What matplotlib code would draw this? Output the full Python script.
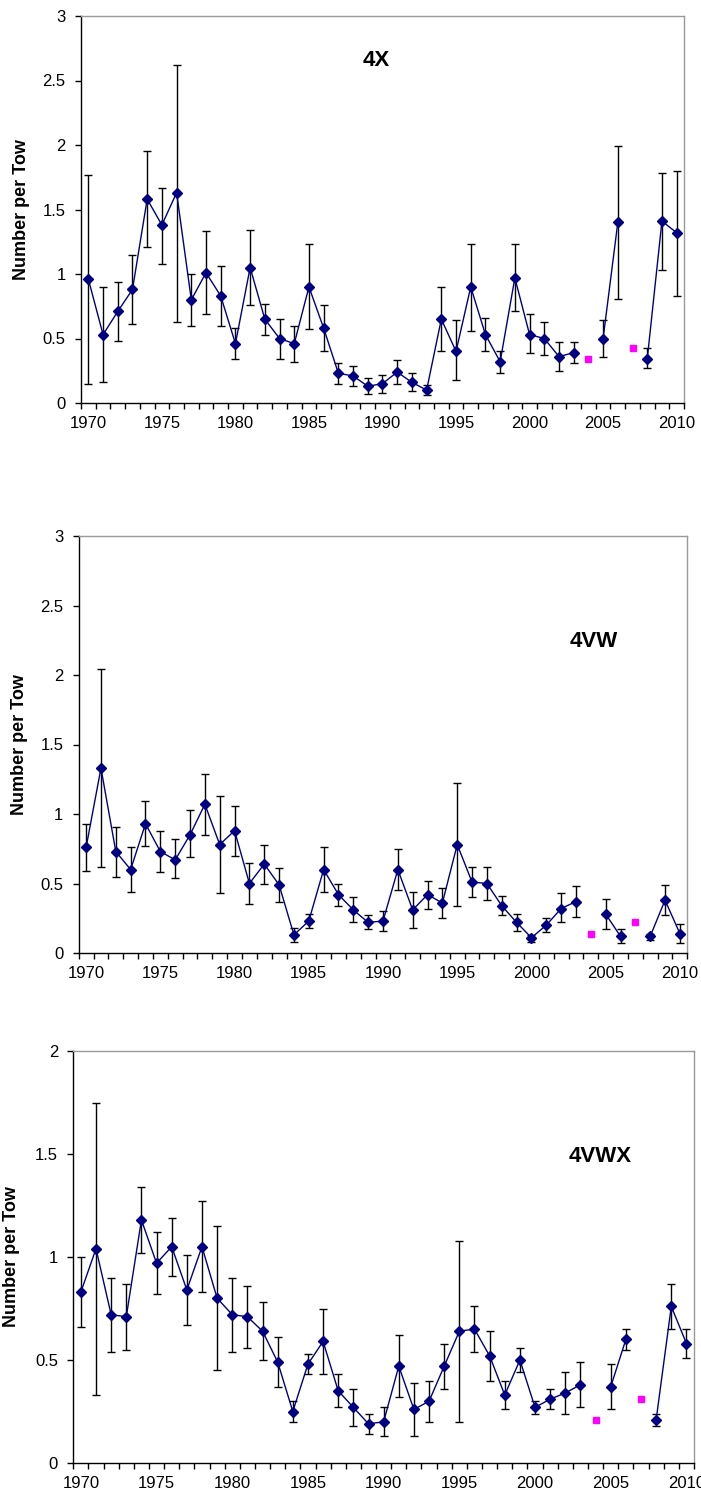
import numpy as np
import matplotlib
matplotlib.use("Agg")
import matplotlib.pyplot as plt
from matplotlib.ticker import FuncFormatter

plt.rcParams['font.family'] = ['Liberation Sans', 'DejaVu Sans']

nan = np.nan
years = np.arange(1970, 2011)
alt_years = [2004, 2007]

# 4X
mean_4x = [0.96, 0.53, 0.71, 0.88, 1.58, 1.38, 1.63, 0.80, 1.01, 0.83, 0.46, 1.05, 0.65, 0.50,
           0.46, 0.90, 0.58, 0.23, 0.21, 0.13, 0.15, 0.24, 0.16, 0.10, 0.65, 0.40, 0.90, 0.53,
           0.32, 0.97, 0.53, 0.50, 0.36, 0.39, nan, 0.50, 1.40, nan, 0.34, 1.41, 1.32]
hi_4x = [1.77, 0.90, 0.94, 1.15, 1.95, 1.67, 2.62, 1.00, 1.33, 1.06, 0.58, 1.34, 0.77, 0.65,
         0.60, 1.23, 0.76, 0.31, 0.29, 0.19, 0.22, 0.33, 0.23, 0.14, 0.90, 0.64, 1.23, 0.66,
         0.40, 1.23, 0.69, 0.63, 0.47, 0.47, nan, 0.64, 1.99, nan, 0.43, 1.78, 1.80]
lo_4x = [0.15, 0.16, 0.48, 0.61, 1.21, 1.08, 0.63, 0.60, 0.69, 0.60, 0.34, 0.76, 0.53, 0.34,
         0.32, 0.57, 0.40, 0.15, 0.13, 0.07, 0.08, 0.15, 0.09, 0.06, 0.40, 0.18, 0.56, 0.40,
         0.23, 0.71, 0.39, 0.37, 0.25, 0.31, nan, 0.36, 0.81, nan, 0.27, 1.03, 0.83]
alt_4x = [0.34, 0.43]

# 4VW
mean_4vw = [0.76, 1.33, 0.73, 0.60, 0.93, 0.73, 0.67, 0.85, 1.07, 0.78, 0.88, 0.50, 0.64, 0.49,
            0.13, 0.23, 0.60, 0.42, 0.31, 0.22, 0.23, 0.60, 0.31, 0.42, 0.36, 0.78, 0.51, 0.50,
            0.34, 0.22, 0.11, 0.20, 0.32, 0.37, nan, 0.28, 0.12, nan, 0.12, 0.38, 0.14]
hi_4vw = [0.93, 2.04, 0.91, 0.76, 1.09, 0.88, 0.82, 1.03, 1.29, 1.13, 1.06, 0.65, 0.78, 0.61,
          0.18, 0.28, 0.76, 0.50, 0.40, 0.27, 0.30, 0.75, 0.44, 0.52, 0.47, 1.22, 0.62, 0.62,
          0.41, 0.28, 0.13, 0.25, 0.43, 0.48, nan, 0.39, 0.17, nan, 0.14, 0.49, 0.21]
lo_4vw = [0.59, 0.62, 0.55, 0.44, 0.77, 0.58, 0.54, 0.69, 0.85, 0.43, 0.70, 0.35, 0.50, 0.37,
          0.08, 0.18, 0.44, 0.34, 0.22, 0.17, 0.16, 0.45, 0.18, 0.32, 0.25, 0.34, 0.40, 0.38,
          0.27, 0.16, 0.08, 0.15, 0.22, 0.26, nan, 0.17, 0.07, nan, 0.09, 0.27, 0.07]
alt_4vw = [0.14, 0.22]

# 4VWX
mean_4vwx = [0.83, 1.04, 0.72, 0.71, 1.18, 0.97, 1.05, 0.84, 1.05, 0.80, 0.72, 0.71, 0.64, 0.49,
             0.25, 0.48, 0.59, 0.35, 0.27, 0.19, 0.20, 0.47, 0.26, 0.30, 0.47, 0.64, 0.65, 0.52,
             0.33, 0.50, 0.27, 0.31, 0.34, 0.38, nan, 0.37, 0.60, nan, 0.21, 0.76, 0.58]
hi_4vwx = [1.00, 1.75, 0.90, 0.87, 1.34, 1.12, 1.19, 1.01, 1.27, 1.15, 0.90, 0.86, 0.78, 0.61,
           0.30, 0.53, 0.75, 0.43, 0.36, 0.24, 0.27, 0.62, 0.39, 0.40, 0.58, 1.08, 0.76, 0.64,
           0.40, 0.56, 0.30, 0.36, 0.44, 0.49, nan, 0.48, 0.65, nan, 0.24, 0.87, 0.65]
lo_4vwx = [0.66, 0.33, 0.54, 0.55, 1.02, 0.82, 0.91, 0.67, 0.83, 0.45, 0.54, 0.56, 0.50, 0.37,
           0.20, 0.43, 0.43, 0.27, 0.18, 0.14, 0.13, 0.32, 0.13, 0.20, 0.36, 0.20, 0.54, 0.40,
           0.26, 0.44, 0.24, 0.26, 0.24, 0.27, nan, 0.26, 0.55, nan, 0.18, 0.65, 0.51]
alt_4vwx = [0.21, 0.31]

W, H = 701, 1500
fig = plt.figure(figsize=(W / 100, H / 100), dpi=100)

# axes boxes in pixels: left, right, top, bottom
panels = [
    dict(box=(81, 684, 16, 403), ymax=3, mean=mean_4x, hi=hi_4x, lo=lo_4x,
         alt=alt_4x, name='4X', txt=(0.489, 0.886), ylab_x=21.7),
    dict(box=(78.7, 687.3, 536, 953), ymax=3, mean=mean_4vw, hi=hi_4vw, lo=lo_4vw,
         alt=alt_4vw, name='4VW', txt=(0.847, 0.747), ylab_x=19.3),
    dict(box=(73.3, 694, 1051, 1463), ymax=2, mean=mean_4vwx, hi=hi_4vwx, lo=lo_4vwx,
         alt=alt_4vwx, name='4VWX', txt=(0.849, 0.743), ylab_x=11.7),
]

for p in panels:
    l, r, t, b = p['box']
    ax = fig.add_axes([l / W, 1 - b / H, (r - l) / W, (b - t) / H])
    m = np.array(p['mean'])
    hi = np.array(p['hi'])
    lo = np.array(p['lo'])

    # error bars first, then the mean line with diamonds on top
    ax.errorbar(years, m, yerr=[m - lo, hi - m], fmt='none', ecolor='black',
                elinewidth=1, capsize=3, capthick=1, zorder=2)
    ax.plot(years, m, color='#000080', lw=1, marker='D', ms=5,
            mfc='#000080', mec='#000080', zorder=3)
    ax.plot(alt_years, p['alt'], ls='none', marker='s', ms=5,
            mfc='#FF00FF', mec='#FF00FF', zorder=3)

    ax.set_xlim(1969.5, 2010.5)
    ax.set_ylim(0, p['ymax'])
    ax.set_yticks(np.arange(0, p['ymax'] + 0.01, 0.5))
    ax.yaxis.set_major_formatter(FuncFormatter(lambda v, pos: '{:g}'.format(v)))
    # labels sit on the years, tick marks between them
    ax.set_xticks(np.arange(1970, 2011, 5))
    ax.set_xticks(np.arange(1969.5, 2011, 1), minor=True)
    ax.tick_params(axis='x', which='major', length=0, pad=9, labelsize=12)
    ax.tick_params(axis='x', which='minor', length=4, width=1, direction='out')
    ax.tick_params(axis='y', length=4, width=1, direction='out', pad=7, labelsize=12)

    for s in ('left', 'bottom'):
        ax.spines[s].set_color('black')
        ax.spines[s].set_linewidth(1)
    for s in ('top', 'right'):
        ax.spines[s].set_color('#999999')
        ax.spines[s].set_linewidth(1)

    ax.set_ylabel('Number per Tow', fontsize=13, fontweight='bold')
    ax.yaxis.label.set_va('center')
    ax.yaxis.set_label_coords(p['ylab_x'] / W, 1 - (t + b) / 2 / H, transform=fig.transFigure)

    ax.text(p['txt'][0], p['txt'][1], p['name'], transform=ax.transAxes,
            fontsize=16, fontweight='bold', ha='center', va='center')

fig.savefig('out.png', dpi=100)
